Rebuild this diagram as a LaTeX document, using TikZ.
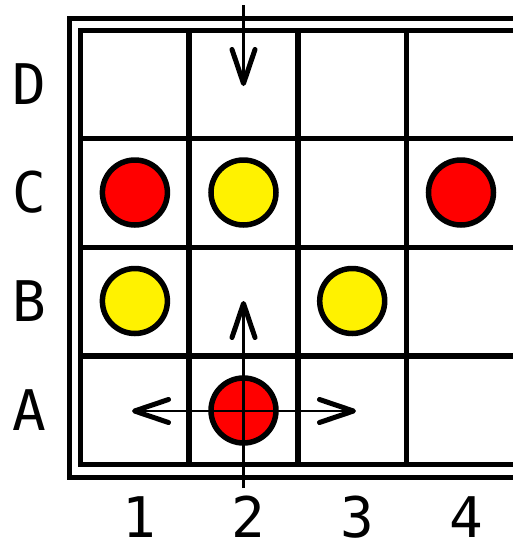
\documentclass[tikz,border=0pt]{standalone}
\usepackage{fontspec}
\newfontfamily\labfont{DejaVu Sans Mono}
\usetikzlibrary{arrows.meta}
\begin{document}
\begin{tikzpicture}[x=1pt,y=-1pt,
  frameline/.style={line width=5pt},
  gridline/.style={line width=5.5pt},
  stone/.style={circle,draw=black,line width=5.5pt,minimum size=65pt,inner sep=0pt},
  redstone/.style={stone,fill=red},
  yelstone/.style={stone,fill=yellow},
  lab/.style={font=\labfont\fontsize{56}{57}\selectfont,inner sep=0pt},
  mv/.style={line width=2.2pt,-{Straight Barb[length=34pt,width=23pt,line width=5pt 0,round]}},
  mvboth/.style={line width=2.2pt,{Straight Barb[length=34pt,width=23pt,line width=5pt 0,round]}-{Straight Barb[length=34pt,width=23pt,line width=5pt 0,round]}}
]
\useasboundingbox (0,0) rectangle (513,547);
\fill[white] (0,0) rectangle (513,547);
\begin{scope}
\clip (0,0) rectangle (513,547);
% frames
\draw[frameline] (620,18.5) -- (69.5,18.5) -- (69.5,477.5) -- (620,477.5);
\draw[frameline] (620,30) -- (80.5,30) -- (80.5,464.8) -- (620,464.8);
% grid
\foreach \x in {189.2,297.9,406.6}
  \draw[gridline] (\x,30) -- (\x,464.8);
\foreach \y in {138.7,247.4,356.1}
  \draw[gridline] (80.5,\y) -- (620,\y);
% stones
\node[redstone] (c1) at (134.9,192.5) {};
\node[yelstone] (c2) at (243.5,192.5) {};
\node[redstone] (c4) at (461,192.5) {};
\node[yelstone] (b1) at (134.9,301) {};
\node[yelstone] (b3) at (352.2,301) {};
\node[redstone] (a2) at (243.5,410.5) {};
% arrows
\coordinate (dstart) at (243.5,5);
\coordinate (dtip) at (243.5,86);
\coordinate (ustart) at (243.5,488);
\coordinate (utip) at (243.5,301);
\coordinate (ltip) at (132,411);
\coordinate (rtip) at (356,411);
\draw[mv] (dstart) -- (dtip);
\draw[mv] (ustart) -- (utip);
\draw[mvboth] (ltip) -- (rtip);
\end{scope}
% labels
\node[lab] (lD) at (29,84.5) {D};
\node[lab] (lC) at (29,192.5) {C};
\node[lab] (lB) at (29,301) {B};
\node[lab] (lA) at (29,410.5) {A};
\node[lab] (n1) at (139,517) {1};
\node[lab] (n2) at (248,517) {2};
\node[lab] (n3) at (357,517) {3};
\node[lab] (n4) at (466,517) {4};
\end{tikzpicture}
\end{document}
